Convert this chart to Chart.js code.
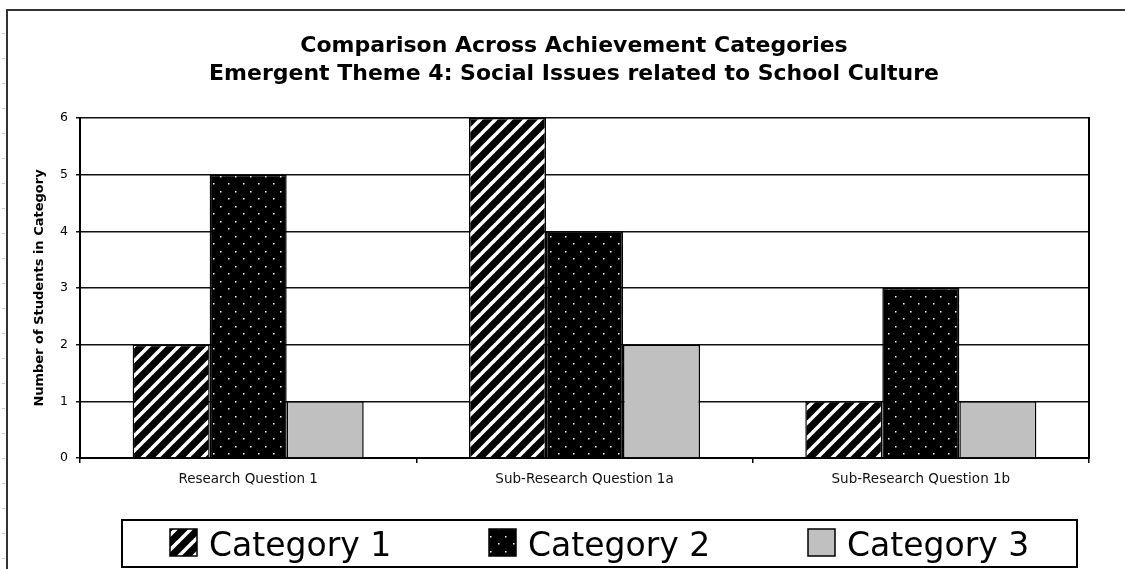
<!DOCTYPE html>
<html><head><meta charset="utf-8">
<script src="https://cdn.jsdelivr.net/npm/chart.js@4.4.0/dist/chart.umd.min.js"></script>
<style>html,body{margin:0;padding:0;background:#fff;overflow:hidden}</style>
</head><body>
<canvas id="c" width="1125" height="569"></canvas>
<script>
const titleLines = ['Comparison Across Achievement Categories', 'Emergent Theme 4: Social Issues related to School Culture'];
const categories = ['Research Question 1', 'Sub-Research Question 1a', 'Sub-Research Question 1b'];
const seriesNames = ['Category 1', 'Category 2', 'Category 3'];
const category1 = [2, 6, 1];
const category2 = [5, 4, 3];
const category3 = [1, 2, 1];
const yTicks = [0, 1, 2, 3, 4, 5, 6];
const yAxisTitle = 'Number of Students in Category';

function hatchPattern() {
  const s = 15, c = document.createElement('canvas');
  c.width = s; c.height = s;
  const x = c.getContext('2d');
  x.fillStyle = '#000'; x.fillRect(0, 0, s, s);
  x.strokeStyle = '#fff'; x.lineWidth = 3.6;
  for (const o of [-s, 0, s]) { x.beginPath(); x.moveTo(o - 1, s + 1); x.lineTo(o + s + 1, -1); x.stroke(); }
  return x.createPattern(c, 'repeat');
}
function dotPattern() {
  const w = 15, h = 15, c = document.createElement('canvas');
  c.width = w; c.height = h;
  const x = c.getContext('2d');
  x.fillStyle = '#000'; x.fillRect(0, 0, w, h);
  x.fillStyle = '#fff';
  x.fillRect(3, 3, 1.5, 1.5); x.fillRect(10, 11, 1.5, 1.5);
  return x.createPattern(c, 'repeat');
}
const fills = [hatchPattern(), dotPattern(), '#c0c0c0'];
const seriesValues = [category1, category2, category3];

const framePlugin = {
  id: 'frame',
  beforeDraw(chart) {
    const ctx = chart.ctx;
    ctx.save();
    ctx.fillStyle = '#fff'; ctx.fillRect(0, 0, chart.width, chart.height);
    ctx.strokeStyle = '#c8c8c8'; ctx.lineWidth = 1;
    for (let y = 33.5; y < chart.height; y += 25) { ctx.beginPath(); ctx.moveTo(2, y); ctx.lineTo(5, y); ctx.stroke(); }
    ctx.strokeStyle = '#333'; ctx.lineWidth = 2;
    ctx.beginPath(); ctx.moveTo(7, chart.height); ctx.lineTo(7, 10); ctx.lineTo(chart.width, 10); ctx.stroke();
    ctx.restore();
  }
};
const legendPlugin = {
  id: 'boxLegend',
  afterDraw(chart) {
    const ctx = chart.ctx;
    ctx.save();
    ctx.strokeStyle = '#000'; ctx.lineWidth = 2;
    ctx.strokeRect(122, 520, 955, 47);
    const sw = 27, y0 = 529, startX = 170, stepX = 319;
    ctx.font = '33px "DejaVu Sans"';
    ctx.textBaseline = 'alphabetic';
    chart.data.datasets.forEach((ds, i) => {
      const x = startX + i * stepX;
      ctx.fillStyle = ds.backgroundColor;
      ctx.fillRect(x, y0, sw, sw);
      ctx.lineWidth = 1.5; ctx.strokeStyle = '#000';
      ctx.strokeRect(x, y0, sw, sw);
      ctx.fillStyle = '#000';
      ctx.fillText(ds.label, x + sw + 12, 556);
    });
    ctx.restore();
  }
};

new Chart(document.getElementById('c'), {
  type: 'bar',
  data: {
    labels: categories,
    datasets: seriesNames.map((n, i) => ({
      label: n, data: seriesValues[i], backgroundColor: fills[i],
      borderColor: '#000', borderWidth: 1.5,
      categoryPercentage: 0.687, barPercentage: 1.0, yAxisID: 'y'
    }))
  },
  options: {
    responsive: false, animation: false, devicePixelRatio: 1,
    layout: { padding: { left: 29, right: 6, top: 22, bottom: 81 } },
    plugins: {
      legend: { display: false },
      tooltip: { enabled: false },
      title: {
        display: true, text: titleLines, color: '#000',
        font: { family: 'DejaVu Sans', size: 22, weight: 'bold', lineHeight: '28px' },
        padding: { top: 10, bottom: 30 }
      }
    },
    scales: {
      x: {
        grid: { offset: true, drawOnChartArea: false, drawTicks: true, tickLength: 5, color: '#000', lineWidth: 1.5 },
        border: { color: '#000', width: 2 },
        ticks: { color: '#111', font: { family: 'DejaVu Sans', size: 13.5 }, padding: 8, maxRotation: 0 },
        afterFit: s => { s.height = 30; }
      },
      y: {
        min: 0, max: 6,
        afterBuildTicks: s => { s.ticks = yTicks.map(v => ({ value: v })); },
        grid: { color: '#111', lineWidth: 1.5, tickLength: 4, drawTicks: true },
        border: { color: '#000', width: 2 },
        ticks: { color: '#000', font: { family: 'DejaVu Sans', size: 12.5 }, padding: 8 },
        title: { display: true, text: yAxisTitle, color: '#000', font: { family: 'DejaVu Sans', size: 13, weight: 'bold' }, padding: { top: 3, bottom: 0 } },
        afterFit: s => { s.width = 51; }
      },
      y2: {
        position: 'right', min: 0, max: 6,
        ticks: { display: false },
        grid: { drawOnChartArea: false, drawTicks: false },
        border: { display: true, color: '#000', width: 2 },
        afterFit: s => { s.width = 30; }
      }
    }
  },
  plugins: [framePlugin, legendPlugin]
});
</script>
</body></html>
